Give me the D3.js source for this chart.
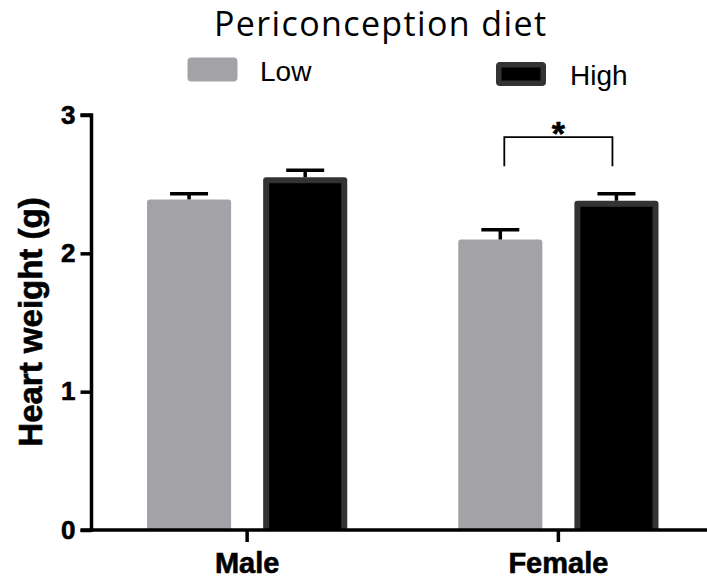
<!DOCTYPE html>
<html>
<head>
<meta charset="utf-8">
<script src="https://cdn.jsdelivr.net/npm/d3@7"></script>
<style>
  html, body { margin: 0; padding: 0; background: #fff; }
  svg { display: block; }
  .sans { font-family: "Liberation Sans", Arimo, Arial, Helvetica, sans-serif; }
  .heavy { font-weight: bold; stroke: #000; stroke-width: 0.6px; }
  .title { font-family: "Open Sans", Lato, sans-serif; }
</style>
</head>
<body>
<svg id="chart" width="707" height="580"></svg>
<script>
// Heart weight by sex and periconception diet (mean + SEM)
const groups = ["Male", "Female"];
const diets = ["Low", "High"];
const meanLow = [2.39, 2.10];
const meanHigh = [2.55, 2.38];
const semLow = [0.04, 0.07];
const semHigh = [0.05, 0.05];
const yTicks = [0, 1, 2, 3];
const title = "Periconception diet";
const yLabel = "Heart weight (g)";
// significance bracket: group, bracket top and leg bottom in data units
const sigGroup = ["Female"];
const sigTop = [2.84];
const sigLeg = [2.63];
const sigText = ["*"];

const rows = [];
groups.forEach((g, i) => {
  rows.push({ group: g, diet: "Low", mean: meanLow[i], sem: semLow[i] });
  rows.push({ group: g, diet: "High", mean: meanHigh[i], sem: semHigh[i] });
});

const svg = d3.select("#chart");

const margin = { left: 91.5, right: -7, top: 115, bottom: 50 };
const W = 707, H = 580;

const y = d3.scaleLinear().domain([0, 3]).range([530, 115]);
const x = d3.scaleBand().domain(groups).range([margin.left, W - margin.right]).padding(0);
const xs = d3.scaleBand().domain(diets).range([0, x.bandwidth()])
  .paddingInner(0.276).paddingOuter(0.478);
const color = { Low: "#a3a2a7", High: "#000000" };

// bars
const bars = svg.append("g");
rows.forEach(d => {
  const bx = x(d.group) + xs(d.diet);
  const bw = xs.bandwidth();
  const top = y(d.mean), h = y(0) - y(d.mean);
  if (d.diet === "Low") {
    bars.append("path")
      .attr("d", roundTop(bx, top, bw, h, 3))
      .attr("fill", color.Low);
  } else {
    bars.append("path")
      .attr("d", roundTop(bx, top, bw, h, 3))
      .attr("fill", "#333333");
    bars.append("rect")
      .attr("x", bx + 6).attr("y", top + 6)
      .attr("width", bw - 12).attr("height", h - 6)
      .attr("fill", color.High);
  }
  // error bar (upper only)
  const cx = bx + bw / 2;
  bars.append("line")
    .attr("x1", cx).attr("x2", cx)
    .attr("y1", top).attr("y2", y(d.mean + d.sem))
    .attr("stroke", "#000").attr("stroke-width", 3.5);
  bars.append("line")
    .attr("x1", cx - 19).attr("x2", cx + 19)
    .attr("y1", y(d.mean + d.sem)).attr("y2", y(d.mean + d.sem))
    .attr("stroke", "#000").attr("stroke-width", 3.5);
});

function roundTop(x0, y0, w, h, r) {
  return `M${x0},${y0 + h}V${y0 + r}Q${x0},${y0} ${x0 + r},${y0}H${x0 + w - r}Q${x0 + w},${y0} ${x0 + w},${y0 + r}V${y0 + h}Z`;
}

// y axis
const yAxis = svg.append("g")
  .attr("transform", `translate(${margin.left},0)`)
  .call(d3.axisLeft(y).tickValues(yTicks).tickFormat(d3.format("d")).tickSize(11).tickPadding(5));
yAxis.attr("font-family", null);
yAxis.select(".domain").attr("stroke", "#000").attr("stroke-width", 3.5)
  .attr("d", `M-11,${y(3)}H0V${y(0)}H-11`);
yAxis.selectAll(".tick line").attr("stroke", "#000").attr("stroke-width", 3.5);
yAxis.selectAll(".tick text")
  .attr("class", "sans heavy")
  .attr("font-size", 26).attr("fill", "#000");

// x axis
const xAxis = svg.append("g")
  .attr("transform", `translate(0,${y(0)})`)
  .call(d3.axisBottom(x).tickSize(12).tickPadding(10));
xAxis.attr("font-family", null);
xAxis.select(".domain").attr("stroke", "#000").attr("stroke-width", 3.5)
  .attr("d", `M${margin.left},0H${W + 10}`);
xAxis.selectAll(".tick line").attr("stroke", "#000").attr("stroke-width", 3.5);
xAxis.selectAll(".tick text")
  .attr("class", "sans heavy")
  .attr("font-size", 29).attr("fill", "#000");

// y axis title
svg.append("text")
  .attr("class", "sans heavy")
  .attr("transform", `translate(41.5,322) rotate(-90)`)
  .attr("text-anchor", "middle")
  .attr("font-size", 33).attr("fill", "#000")
  .text(yLabel);

// significance bracket
sigGroup.forEach((g, i) => {
  const xl = x(g) + xs("Low") + xs.bandwidth() / 2 + 4;
  const xr = x(g) + xs("High") + xs.bandwidth() / 2 - 4;
  svg.append("path")
    .attr("d", `M${xl},${y(sigLeg[i])}V${y(sigTop[i])}H${xr}V${y(sigLeg[i])}`)
    .attr("fill", "none").attr("stroke", "#000").attr("stroke-width", 1.8);
  svg.append("text")
    .attr("class", "sans heavy")
    .attr("x", (xl + xr) / 2).attr("y", y(sigTop[i]) + 8)
    .attr("text-anchor", "middle")
    .attr("font-size", 34).attr("fill", "#000")
    .text(sigText[i]);
});

// title
svg.append("text")
  .attr("class", "title")
  .attr("x", 380).attr("y", 36)
  .attr("text-anchor", "middle")
  .attr("font-size", 34).attr("fill", "#000")
  .attr("textLength", 332)
  .text(title);

// legend
const legendItems = [
  { key: "Low", sx: 187.5, sy: 57.5, tx: 260, ty: 81 },
  { key: "High", sx: 496, sy: 62, tx: 570, ty: 85 }
];
const legend = svg.append("g");
legendItems.forEach(d => {
  if (d.key === "Low") {
    legend.append("rect").attr("x", d.sx).attr("y", d.sy)
      .attr("width", 50).attr("height", 24).attr("rx", 4)
      .attr("fill", color.Low);
  } else {
    legend.append("rect").attr("x", d.sx).attr("y", d.sy)
      .attr("width", 50).attr("height", 24).attr("rx", 4)
      .attr("fill", "#333333");
    legend.append("rect").attr("x", d.sx + 5.5).attr("y", d.sy + 5.5)
      .attr("width", 39).attr("height", 13)
      .attr("fill", color.High);
  }
  legend.append("text").attr("class", "sans")
    .attr("x", d.tx).attr("y", d.ty)
    .attr("font-size", 28).attr("fill", "#000")
    .text(d.key);
});
</script>
</body>
</html>
